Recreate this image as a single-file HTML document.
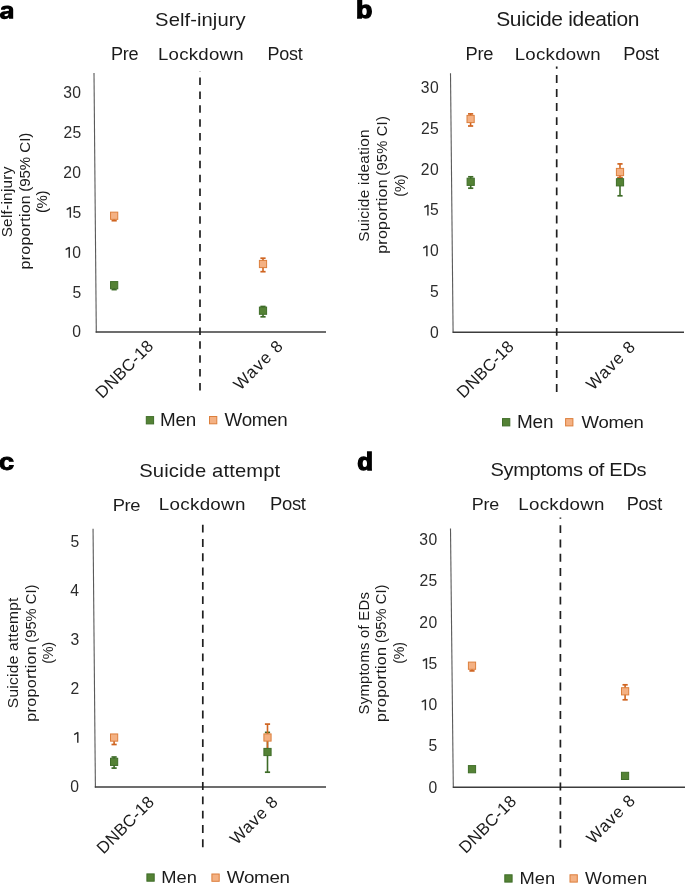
<!DOCTYPE html>
<html><head><meta charset="utf-8"><style>
html,body{margin:0;padding:0;background:#fff;width:685px;height:885px;overflow:hidden}
svg{display:block;will-change:transform}
text{font-family:"Liberation Sans",sans-serif;fill:#1b1b1b}
</style></head><body>
<svg width="685" height="885" viewBox="0 0 685 885">
<rect width="685" height="885" fill="#fff"/>
<path fill="#000" fill-rule="evenodd" d="M1.0 9.8 L1.0 8.8 C1.2 6.4 3.6 5.4 6.9 5.4 C10.6 5.4 13.2 6.6 13.2 9.6 L13.2 18.8 L9.0 18.8 L9.0 9.9 C9.0 9.1 8.2 8.7 6.9 8.7 C5.7 8.7 5.0 9.2 4.9 9.8 Z M9.0 10.5 C8.0 11.0 6.0 11.1 4.6 11.3 C1.8 11.7 -0.1 12.8 -0.1 15.3 C-0.1 17.8 1.8 19.2 4.4 19.2 C6.4 19.2 8.1 18.5 9.0 17.3 Z M8.3 13.3 C7.6 13.7 6.6 13.8 5.8 13.9 C4.9 14.0 4.4 14.5 4.4 15.1 C4.4 15.8 5.0 16.2 5.8 16.2 C7.2 16.2 8.3 15.5 8.3 14.3 Z"/>
<text transform="translate(155.09 26.00) scale(1.0800 1)" font-size="18.71" font-weight="400" letter-spacing="0.062">Self-injury</text>
<text transform="translate(110.95 60.30) scale(1.0080 1)" font-size="17.97" font-weight="400" letter-spacing="-0.300">Pre</text>
<text transform="translate(157.91 60.30) scale(1.0962 1)" font-size="16.99" font-weight="400" letter-spacing="0.250">Lockdown</text>
<text transform="translate(267.56 60.30) scale(1.0023 1)" font-size="17.97" font-weight="400" letter-spacing="-0.300">Post</text>
<text transform="translate(72.34 98.22) scale(1.0000 1)" font-size="15.70" style="fill:#2c2c2c">0</text>
<text transform="translate(63.26 98.22) scale(1.0000 1)" font-size="15.70" style="fill:#2c2c2c">3</text>
<text transform="translate(72.49 138.09) scale(1.0000 1)" font-size="15.70" style="fill:#2c2c2c">5</text>
<text transform="translate(63.41 138.09) scale(1.0000 1)" font-size="15.70" style="fill:#2c2c2c">2</text>
<text transform="translate(72.34 177.96) scale(1.0000 1)" font-size="15.70" style="fill:#2c2c2c">0</text>
<text transform="translate(63.26 177.96) scale(1.0000 1)" font-size="15.70" style="fill:#2c2c2c">2</text>
<text transform="translate(72.49 217.83) scale(1.0000 1)" font-size="15.70" style="fill:#2c2c2c">5</text>
<path d="M70.32 217.83 V207.29 M70.52 207.49 L66.72 209.69" stroke="#2c2c2c" stroke-width="1.45" fill="none"/>
<text transform="translate(72.34 257.70) scale(1.0000 1)" font-size="15.70" style="fill:#2c2c2c">0</text>
<path d="M69.26 257.70 V247.16 M69.46 247.36 L65.66 249.56" stroke="#2c2c2c" stroke-width="1.45" fill="none"/>
<text transform="translate(72.49 297.57) scale(1.0000 1)" font-size="15.70" style="fill:#2c2c2c">5</text>
<text transform="translate(72.34 337.44) scale(1.0000 1)" font-size="15.70" style="fill:#2c2c2c">0</text>
<text transform="translate(12.30 237.37) rotate(-90) scale(1.0162 1)" font-size="15.10" letter-spacing="0.250">Self-injury</text>
<text transform="translate(30.10 269.42) rotate(-90) scale(1.0551 1)" font-size="15.10" letter-spacing="0.250">proportion</text>
<text transform="translate(30.10 191.81) rotate(-90) scale(1.0000 1)" font-size="15.10" letter-spacing="-0.055">(95% CI)</text>
<text transform="translate(47.40 213.10) rotate(-90) scale(0.9908 1)" font-size="15.10" letter-spacing="-0.300">(%)</text>
<text transform="translate(102.37 399.13) rotate(-45)" font-size="16.80" letter-spacing="0.294">DNBC-18</text>
<text transform="translate(240.30 390.90) rotate(-45)" font-size="16.80" letter-spacing="1.053">Wave 8</text>
<line x1="94.00" y1="73.10" x2="96.30" y2="332.60" stroke="#5a5a5a" stroke-width="1.1" />
<line x1="95.60" y1="332.10" x2="326.00" y2="332.10" stroke="#3c3c3c" stroke-width="1.5" />
<line x1="200.00" y1="390.40" x2="200.00" y2="71.00" stroke="#1f1f1f" stroke-width="1.7" stroke-dasharray="7.5 6.38"/>
<line x1="114.15" y1="285.20" x2="114.15" y2="289.60" stroke="#3d6b27" stroke-width="1.6"/>
<line x1="111.55" y1="289.60" x2="116.75" y2="289.60" stroke="#3d6b27" stroke-width="1.7"/>
<line x1="114.15" y1="215.75" x2="114.15" y2="220.70" stroke="#cf6420" stroke-width="1.6"/>
<line x1="111.55" y1="220.70" x2="116.75" y2="220.70" stroke="#cf6420" stroke-width="1.7"/>
<line x1="263.00" y1="306.50" x2="263.00" y2="316.80" stroke="#3d6b27" stroke-width="1.6"/>
<line x1="260.40" y1="306.50" x2="265.60" y2="306.50" stroke="#3d6b27" stroke-width="1.7"/>
<line x1="260.40" y1="316.80" x2="265.60" y2="316.80" stroke="#3d6b27" stroke-width="1.7"/>
<line x1="263.00" y1="258.20" x2="263.00" y2="271.70" stroke="#cf6420" stroke-width="1.6"/>
<line x1="260.40" y1="258.20" x2="265.60" y2="258.20" stroke="#cf6420" stroke-width="1.7"/>
<line x1="260.40" y1="271.70" x2="265.60" y2="271.70" stroke="#cf6420" stroke-width="1.7"/>
<rect x="110.55" y="281.60" width="7.2" height="7.2" fill="#548235" stroke="#3f6d28" stroke-width="1"/>
<rect x="110.55" y="212.15" width="7.2" height="7.2" fill="#f4b183" stroke="#dc7f3c" stroke-width="1"/>
<rect x="259.40" y="307.10" width="7.2" height="7.2" fill="#548235" stroke="#3f6d28" stroke-width="1"/>
<rect x="259.40" y="260.40" width="7.2" height="7.2" fill="#f4b183" stroke="#dc7f3c" stroke-width="1"/>
<rect x="146.30" y="416.60" width="7.3" height="7.3" fill="#548235" stroke="#3f6d28" stroke-width="1"/>
<text transform="translate(160.09 426.00) scale(1.0664 1)" font-size="17.68" font-weight="400" letter-spacing="-0.300">Men</text>
<rect x="209.50" y="416.50" width="7.3" height="7.3" fill="#f4b183" stroke="#dc7f3c" stroke-width="1"/>
<text transform="translate(224.61 426.20) scale(1.0615 1)" font-size="17.68" font-weight="400" letter-spacing="-0.300">Women</text>
<text transform="translate(355.97 18.40) scale(1.1022 1)" font-size="24.32" font-weight="700" style="fill:#000" stroke="#000" stroke-width="1.3">b</text>
<text transform="translate(496.15 25.70) scale(1.0648 1)" font-size="19.71" font-weight="400" letter-spacing="-0.300">Suicide ideation</text>
<text transform="translate(465.53 60.30) scale(1.0200 1)" font-size="17.97" font-weight="400" letter-spacing="-0.300">Pre</text>
<text transform="translate(514.71 60.20) scale(1.1150 1)" font-size="16.71" font-weight="400" letter-spacing="0.250">Lockdown</text>
<text transform="translate(623.34 60.20) scale(1.0343 1)" font-size="17.68" font-weight="400" letter-spacing="-0.300">Post</text>
<text transform="translate(429.94 93.27) scale(1.0000 1)" font-size="15.70" style="fill:#2c2c2c">0</text>
<text transform="translate(420.86 93.27) scale(1.0000 1)" font-size="15.70" style="fill:#2c2c2c">3</text>
<text transform="translate(430.09 133.99) scale(1.0000 1)" font-size="15.70" style="fill:#2c2c2c">5</text>
<text transform="translate(421.01 133.99) scale(1.0000 1)" font-size="15.70" style="fill:#2c2c2c">2</text>
<text transform="translate(429.94 174.72) scale(1.0000 1)" font-size="15.70" style="fill:#2c2c2c">0</text>
<text transform="translate(420.86 174.72) scale(1.0000 1)" font-size="15.70" style="fill:#2c2c2c">2</text>
<text transform="translate(430.09 215.44) scale(1.0000 1)" font-size="15.70" style="fill:#2c2c2c">5</text>
<path d="M427.92 215.44 V204.91 M428.12 205.11 L424.32 207.31" stroke="#2c2c2c" stroke-width="1.45" fill="none"/>
<text transform="translate(429.94 256.17) scale(1.0000 1)" font-size="15.70" style="fill:#2c2c2c">0</text>
<path d="M426.86 256.17 V245.63 M427.06 245.83 L423.26 248.03" stroke="#2c2c2c" stroke-width="1.45" fill="none"/>
<text transform="translate(430.09 296.89) scale(1.0000 1)" font-size="15.70" style="fill:#2c2c2c">5</text>
<text transform="translate(429.94 337.62) scale(1.0000 1)" font-size="15.70" style="fill:#2c2c2c">0</text>
<text transform="translate(369.30 241.77) rotate(-90) scale(1.0461 1)" font-size="14.70" letter-spacing="0.250">Suicide ideation</text>
<text transform="translate(386.80 253.82) rotate(-90) scale(1.0874 1)" font-size="14.70" letter-spacing="0.250">proportion</text>
<text transform="translate(386.80 175.68) rotate(-90) scale(1.0000 1)" font-size="14.70" letter-spacing="0.221">(95% CI)</text>
<text transform="translate(404.50 196.68) rotate(-90) scale(0.9990 1)" font-size="14.70" letter-spacing="-0.300">(%)</text>
<text transform="translate(463.57 398.93) rotate(-45)" font-size="16.80" letter-spacing="0.129">DNBC-18</text>
<text transform="translate(593.00 391.05) rotate(-45)" font-size="16.80" letter-spacing="0.906">Wave 8</text>
<line x1="450.50" y1="73.20" x2="453.10" y2="332.80" stroke="#5a5a5a" stroke-width="1.1" />
<line x1="452.60" y1="332.30" x2="684.00" y2="332.30" stroke="#3c3c3c" stroke-width="1.5" />
<line x1="556.70" y1="392.00" x2="556.70" y2="66.50" stroke="#1f1f1f" stroke-width="1.7" stroke-dasharray="7.9 6.15"/>
<line x1="470.70" y1="176.80" x2="470.70" y2="188.20" stroke="#3d6b27" stroke-width="1.6"/>
<line x1="468.10" y1="176.80" x2="473.30" y2="176.80" stroke="#3d6b27" stroke-width="1.7"/>
<line x1="468.10" y1="188.20" x2="473.30" y2="188.20" stroke="#3d6b27" stroke-width="1.7"/>
<line x1="470.60" y1="113.90" x2="470.60" y2="126.00" stroke="#cf6420" stroke-width="1.6"/>
<line x1="468.00" y1="113.90" x2="473.20" y2="113.90" stroke="#cf6420" stroke-width="1.7"/>
<line x1="468.00" y1="126.00" x2="473.20" y2="126.00" stroke="#cf6420" stroke-width="1.7"/>
<line x1="620.00" y1="178.00" x2="620.00" y2="195.80" stroke="#3d6b27" stroke-width="1.6"/>
<line x1="617.40" y1="178.00" x2="622.60" y2="178.00" stroke="#3d6b27" stroke-width="1.7"/>
<line x1="617.40" y1="195.80" x2="622.60" y2="195.80" stroke="#3d6b27" stroke-width="1.7"/>
<line x1="620.00" y1="163.90" x2="620.00" y2="177.50" stroke="#cf6420" stroke-width="1.6"/>
<line x1="617.40" y1="163.90" x2="622.60" y2="163.90" stroke="#cf6420" stroke-width="1.7"/>
<line x1="617.40" y1="177.50" x2="622.60" y2="177.50" stroke="#cf6420" stroke-width="1.7"/>
<rect x="467.10" y="178.20" width="7.2" height="7.2" fill="#548235" stroke="#3f6d28" stroke-width="1"/>
<rect x="467.00" y="115.40" width="7.2" height="7.2" fill="#f4b183" stroke="#dc7f3c" stroke-width="1"/>
<rect x="616.40" y="178.70" width="7.2" height="7.2" fill="#548235" stroke="#3f6d28" stroke-width="1"/>
<rect x="616.40" y="168.40" width="7.2" height="7.2" fill="#f4b183" stroke="#dc7f3c" stroke-width="1"/>
<rect x="502.50" y="418.60" width="7.3" height="7.3" fill="#548235" stroke="#3f6d28" stroke-width="1"/>
<text transform="translate(516.88 427.80) scale(1.0800 1)" font-size="17.54" font-weight="400" letter-spacing="-0.134">Men</text>
<rect x="565.60" y="418.60" width="7.3" height="7.3" fill="#f4b183" stroke="#dc7f3c" stroke-width="1"/>
<text transform="translate(581.61 427.80) scale(1.0747 1)" font-size="17.25" font-weight="400" letter-spacing="-0.300">Women</text>
<text transform="translate(-1.26 469.91) scale(1.1478 1)" font-size="24.18" font-weight="700" style="fill:#000" stroke="#000" stroke-width="0.9">c</text>
<text transform="translate(139.19 476.70) scale(1.0800 1)" font-size="18.71" font-weight="400" letter-spacing="0.116">Suicide attempt</text>
<text transform="translate(112.63 510.60) scale(1.0548 1)" font-size="17.39" font-weight="400" letter-spacing="-0.300">Pre</text>
<text transform="translate(158.80 510.40) scale(1.1335 1)" font-size="16.58" font-weight="400" letter-spacing="0.250">Lockdown</text>
<text transform="translate(270.02 510.40) scale(1.0523 1)" font-size="17.54" font-weight="400" letter-spacing="-0.300">Post</text>
<text transform="translate(70.49 546.62) scale(1.0000 1)" font-size="15.70" style="fill:#2c2c2c">5</text>
<text transform="translate(70.18 595.65) scale(1.0000 1)" font-size="15.70" style="fill:#2c2c2c">4</text>
<text transform="translate(70.49 644.68) scale(1.0000 1)" font-size="15.70" style="fill:#2c2c2c">3</text>
<text transform="translate(70.49 693.71) scale(1.0000 1)" font-size="15.70" style="fill:#2c2c2c">2</text>
<path d="M77.80 742.74 V732.20 M78.00 732.40 L74.20 734.60" stroke="#2c2c2c" stroke-width="1.45" fill="none"/>
<text transform="translate(70.34 791.77) scale(1.0000 1)" font-size="15.70" style="fill:#2c2c2c">0</text>
<text transform="translate(18.00 708.18) rotate(-90) scale(1.0553 1)" font-size="14.70" letter-spacing="0.250">Suicide attempt</text>
<text transform="translate(35.70 721.84) rotate(-90) scale(1.1070 1)" font-size="14.70" letter-spacing="0.250">proportion</text>
<text transform="translate(35.70 642.78) rotate(-90) scale(1.0000 1)" font-size="14.70" letter-spacing="0.049">(95% CI)</text>
<text transform="translate(53.40 663.77) rotate(-90) scale(0.9843 1)" font-size="14.70" letter-spacing="-0.300">(%)</text>
<text transform="translate(103.57 854.73) rotate(-45)" font-size="16.80" letter-spacing="0.185">DNBC-18</text>
<text transform="translate(236.70 845.50) rotate(-45)" font-size="16.80" letter-spacing="0.697">Wave 8</text>
<line x1="93.05" y1="528.80" x2="95.40" y2="787.50" stroke="#5a5a5a" stroke-width="1.1" />
<line x1="94.80" y1="787.10" x2="326.00" y2="787.10" stroke="#3c3c3c" stroke-width="1.5" />
<line x1="202.80" y1="847.20" x2="202.80" y2="519.00" stroke="#1f1f1f" stroke-width="1.7" stroke-dasharray="7.9 6.40"/>
<line x1="114.10" y1="757.00" x2="114.10" y2="768.10" stroke="#3d6b27" stroke-width="1.6"/>
<line x1="111.50" y1="757.00" x2="116.70" y2="757.00" stroke="#3d6b27" stroke-width="1.7"/>
<line x1="111.50" y1="768.10" x2="116.70" y2="768.10" stroke="#3d6b27" stroke-width="1.7"/>
<line x1="114.10" y1="737.55" x2="114.10" y2="744.50" stroke="#cf6420" stroke-width="1.6"/>
<line x1="111.50" y1="744.50" x2="116.70" y2="744.50" stroke="#cf6420" stroke-width="1.7"/>
<line x1="267.50" y1="732.40" x2="267.50" y2="772.20" stroke="#3d6b27" stroke-width="1.6"/>
<line x1="264.90" y1="732.40" x2="270.10" y2="732.40" stroke="#3d6b27" stroke-width="1.7"/>
<line x1="264.90" y1="772.20" x2="270.10" y2="772.20" stroke="#3d6b27" stroke-width="1.7"/>
<line x1="267.50" y1="724.10" x2="267.50" y2="749.50" stroke="#cf6420" stroke-width="1.6"/>
<line x1="264.90" y1="724.10" x2="270.10" y2="724.10" stroke="#cf6420" stroke-width="1.7"/>
<line x1="264.90" y1="749.50" x2="270.10" y2="749.50" stroke="#cf6420" stroke-width="1.7"/>
<rect x="110.50" y="758.25" width="7.2" height="7.2" fill="#548235" stroke="#3f6d28" stroke-width="1"/>
<rect x="110.50" y="733.95" width="7.2" height="7.2" fill="#f4b183" stroke="#dc7f3c" stroke-width="1"/>
<rect x="263.90" y="748.40" width="7.2" height="7.2" fill="#548235" stroke="#3f6d28" stroke-width="1"/>
<rect x="263.90" y="733.90" width="7.2" height="7.2" fill="#f4b183" stroke="#dc7f3c" stroke-width="1"/>
<rect x="146.90" y="873.90" width="7.3" height="7.3" fill="#548235" stroke="#3f6d28" stroke-width="1"/>
<text transform="translate(161.33 882.80) scale(1.0800 1)" font-size="16.96" font-weight="400" letter-spacing="0.017">Men</text>
<rect x="211.90" y="874.00" width="7.3" height="7.3" fill="#f4b183" stroke="#dc7f3c" stroke-width="1"/>
<text transform="translate(226.81 883.40) scale(1.0800 1)" font-size="17.39" font-weight="400" letter-spacing="-0.260">Women</text>
<text transform="translate(357.32 470.05) scale(1.0581 1)" font-size="24.38" font-weight="700" style="fill:#000" stroke="#000" stroke-width="1.3">d</text>
<text transform="translate(490.40 476.40) scale(1.0494 1)" font-size="19.14" font-weight="400" letter-spacing="-0.300">Symptoms of EDs</text>
<text transform="translate(471.87 510.20) scale(1.0390 1)" font-size="17.25" font-weight="400" letter-spacing="-0.300">Pre</text>
<text transform="translate(518.30 510.20) scale(1.0843 1)" font-size="17.26" font-weight="400" letter-spacing="0.250">Lockdown</text>
<text transform="translate(626.75 510.20) scale(1.0197 1)" font-size="17.83" font-weight="400" letter-spacing="-0.300">Post</text>
<text transform="translate(428.44 545.17) scale(1.0000 1)" font-size="15.70" style="fill:#2c2c2c">0</text>
<text transform="translate(419.36 545.17) scale(1.0000 1)" font-size="15.70" style="fill:#2c2c2c">3</text>
<text transform="translate(428.59 586.41) scale(1.0000 1)" font-size="15.70" style="fill:#2c2c2c">5</text>
<text transform="translate(419.51 586.41) scale(1.0000 1)" font-size="15.70" style="fill:#2c2c2c">2</text>
<text transform="translate(428.44 627.65) scale(1.0000 1)" font-size="15.70" style="fill:#2c2c2c">0</text>
<text transform="translate(419.36 627.65) scale(1.0000 1)" font-size="15.70" style="fill:#2c2c2c">2</text>
<text transform="translate(428.59 668.89) scale(1.0000 1)" font-size="15.70" style="fill:#2c2c2c">5</text>
<path d="M426.42 668.89 V658.35 M426.62 658.55 L422.82 660.75" stroke="#2c2c2c" stroke-width="1.45" fill="none"/>
<text transform="translate(428.44 710.13) scale(1.0000 1)" font-size="15.70" style="fill:#2c2c2c">0</text>
<path d="M425.36 710.13 V699.59 M425.56 699.79 L421.76 701.99" stroke="#2c2c2c" stroke-width="1.45" fill="none"/>
<text transform="translate(428.59 751.37) scale(1.0000 1)" font-size="15.70" style="fill:#2c2c2c">5</text>
<text transform="translate(428.44 792.61) scale(1.0000 1)" font-size="15.70" style="fill:#2c2c2c">0</text>
<text transform="translate(368.60 714.44) rotate(-90) scale(1.0098 1)" font-size="14.70" letter-spacing="0.250">Symptoms of EDs</text>
<text transform="translate(386.10 721.93) rotate(-90) scale(1.0949 1)" font-size="14.70" letter-spacing="0.250">proportion</text>
<text transform="translate(386.10 642.98) rotate(-90) scale(1.0000 1)" font-size="14.70" letter-spacing="0.078">(95% CI)</text>
<text transform="translate(404.30 663.66) rotate(-90) scale(0.9696 1)" font-size="14.70" letter-spacing="-0.300">(%)</text>
<text transform="translate(465.67 854.18) rotate(-45)" font-size="16.80" letter-spacing="0.237">DNBC-18</text>
<text transform="translate(593.30 844.65) rotate(-45)" font-size="16.80" letter-spacing="0.838">Wave 8</text>
<line x1="450.50" y1="528.60" x2="453.30" y2="787.80" stroke="#5a5a5a" stroke-width="1.1" />
<line x1="452.80" y1="787.30" x2="685.00" y2="787.30" stroke="#3c3c3c" stroke-width="1.5" />
<line x1="560.40" y1="847.70" x2="560.40" y2="517.50" stroke="#1f1f1f" stroke-width="1.7" stroke-dasharray="7.9 6.40"/>
<line x1="472.00" y1="665.70" x2="472.00" y2="670.90" stroke="#cf6420" stroke-width="1.6"/>
<line x1="469.40" y1="670.90" x2="474.60" y2="670.90" stroke="#cf6420" stroke-width="1.7"/>
<line x1="625.10" y1="684.80" x2="625.10" y2="699.80" stroke="#cf6420" stroke-width="1.6"/>
<line x1="622.50" y1="684.80" x2="627.70" y2="684.80" stroke="#cf6420" stroke-width="1.7"/>
<line x1="622.50" y1="699.80" x2="627.70" y2="699.80" stroke="#cf6420" stroke-width="1.7"/>
<rect x="468.40" y="765.60" width="7.2" height="7.2" fill="#548235" stroke="#3f6d28" stroke-width="1"/>
<rect x="468.40" y="662.10" width="7.2" height="7.2" fill="#f4b183" stroke="#dc7f3c" stroke-width="1"/>
<rect x="621.45" y="772.30" width="7.2" height="7.2" fill="#548235" stroke="#3f6d28" stroke-width="1"/>
<rect x="621.50" y="687.70" width="7.2" height="7.2" fill="#f4b183" stroke="#dc7f3c" stroke-width="1"/>
<rect x="504.80" y="874.80" width="7.3" height="7.3" fill="#548235" stroke="#3f6d28" stroke-width="1"/>
<text transform="translate(519.43 883.60) scale(1.0800 1)" font-size="16.96" font-weight="400" letter-spacing="0.063">Men</text>
<rect x="570.00" y="874.80" width="7.3" height="7.3" fill="#f4b183" stroke="#dc7f3c" stroke-width="1"/>
<text transform="translate(584.92 883.50) scale(1.0920 1)" font-size="16.38" font-weight="400" letter-spacing="0.250">Women</text>
</svg></body></html>
